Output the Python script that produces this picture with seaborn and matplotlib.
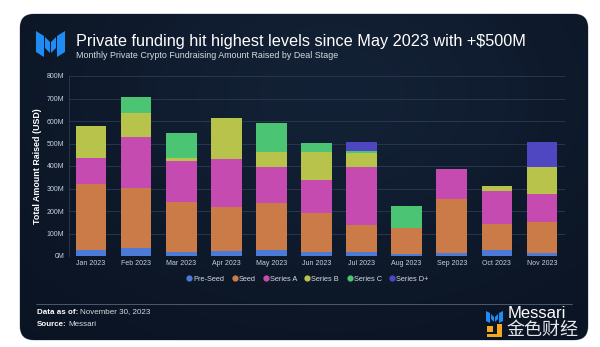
import numpy as np
import pandas as pd
import matplotlib
matplotlib.use("Agg")
import matplotlib.pyplot as plt
import seaborn as sns
from matplotlib.patches import FancyBboxPatch, Polygon
from matplotlib.lines import Line2D

months = ["Jan 2023", "Feb 2023", "Mar 2023", "Apr 2023", "May 2023", "Jun 2023",
          "Jul 2023", "Aug 2023", "Sep 2023", "Oct 2023", "Nov 2023"]
pre_seed = [27, 36, 19, 24, 27, 19, 18, 9, 15, 28, 15]
seed = [293, 266, 220, 194, 207, 174, 118, 117, 237, 113, 138]
series_a = [117, 225, 185, 213, 163, 145, 261, 0, 136, 149, 124]
series_b = [142, 110, 10, 184, 65, 126, 62, 0, 0, 21, 120]
series_c = [0, 68, 111, 0, 131, 38, 9, 98, 0, 0, 0]
series_d = [0, 0, 0, 0, 0, 0, 39, 0, 0, 0, 110]
stages = ["Pre-Seed", "Seed", "Series A", "Series B", "Series C", "Series D+"]
ytick_vals = [0, 100, 200, 300, 400, 500, 600, 700, 800]
ytick_labels = ["0M", "100M", "200M", "300M", "400M", "500M", "600M", "700M", "800M"]

colors = ["#4b7bd6", "#cb7b47", "#c64bb0", "#b7c34b", "#4bc473", "#4f47c2"]
FONT = ["Liberation Sans", "DejaVu Sans"]

sns.set_theme(style="white")
plt.rcParams["font.family"] = FONT

W, H = 600, 347
fig = plt.figure(figsize=(6.0, 3.47), dpi=100)
fig.patch.set_facecolor("white")

# background axes in pixel coordinates
bg = fig.add_axes([0, 0, 1, 1])
bg.set_xlim(0, W)
bg.set_ylim(H, 0)
bg.axis("off")

panel = FancyBboxPatch((20, 14), 568, 326, boxstyle="round,pad=0,rounding_size=14",
                       facecolor="#0e1a2c", edgecolor="#9fb3c8", linewidth=0.6, zorder=0)
bg.add_patch(panel)
yy, xx = np.mgrid[0:1:200j, 0:1:300j]
grad = np.clip(0.55 * np.exp(-((xx - 0.55) ** 2 / 0.25 + (yy - 0.25) ** 2 / 0.35)), 0, 1)
c0 = np.array([0x0a, 0x13, 0x22]) / 255
c1 = np.array([0x1a, 0x2c, 0x45]) / 255
img = c0[None, None, :] + (c1 - c0)[None, None, :] * grad[..., None]
im = bg.imshow(img, extent=(20, 588, 340, 14), zorder=0.5, aspect="auto")
im.set_clip_path(panel)

# Messari-style logo
logo_c = "#1e8cf5"
bg.add_patch(Polygon([(36, 31), (44, 36), (44, 57), (36, 52)], closed=True, fc=logo_c, ec="none", zorder=2))
bg.add_patch(Polygon([(45, 37), (50, 42), (50, 53), (45, 48)], closed=True, fc=logo_c, ec="none", zorder=2))
bg.add_patch(Polygon([(51, 42), (56, 37), (56, 48), (51, 53)], closed=True, fc=logo_c, ec="none", zorder=2))
bg.add_patch(Polygon([(57, 36), (65, 31), (65, 52), (57, 57)], closed=True, fc=logo_c, ec="none", zorder=2))

bg.text(76, 41, "Private funding hit highest levels since May 2023 with +$500M",
        color="white", fontsize=11.7, va="center", ha="left", zorder=3)
bg.text(76, 55, "Monthly Private Crypto Fundraising Amount Raised by Deal Stage",
        color="#d5dbe3", fontsize=6.4, va="center", ha="left", zorder=3)

# divider + footer
bg.plot([36, 572], [304, 304], color="#56657a", lw=0.6, zorder=3)
fig.canvas.draw()
renderer = fig.canvas.get_renderer()
inv = bg.transData.inverted()


def label_pair(y, bold_txt, txt):
    t = bg.text(37, y, bold_txt, color="white", fontsize=5.8, fontweight="bold", va="center", zorder=3)
    bb = t.get_window_extent(renderer=renderer)
    x1 = inv.transform((bb.x1, bb.y0))[0]
    bg.text(x1 + 1.5, y, txt, color="#d5dbe3", fontsize=5.8, va="center", zorder=3)


label_pair(312, "Data as of:", "November 30, 2023")
label_pair(325, "Source:", "Messari")

# Messari footer logo
bg.add_patch(Polygon([(486, 311), (490, 313), (490, 323), (486, 321)], closed=True, fc=logo_c, ec="none", zorder=3))
bg.add_patch(Polygon([(491, 314), (494, 317), (494, 322), (491, 319)], closed=True, fc=logo_c, ec="none", zorder=3))
bg.add_patch(Polygon([(495, 317), (498, 314), (498, 319), (495, 322)], closed=True, fc=logo_c, ec="none", zorder=3))
bg.add_patch(Polygon([(499, 313), (503, 311), (503, 321), (499, 323)], closed=True, fc=logo_c, ec="none", zorder=3))
bg.text(508, 313, "Messari", color="white", fontsize=12, va="center", ha="left", zorder=3)
# watermark
bg.add_patch(Polygon([(487, 326), (493, 326), (493, 332), (487, 332)], closed=True, fc="#f4a81d", ec="none", zorder=4))
bg.add_patch(Polygon([(497, 324), (502, 324), (502, 337), (487, 337), (487, 334), (497, 334)], closed=True,
                     fc="#f4a81d", ec="none", zorder=4))
bg.text(506, 330, "金色财经", color="white", fontsize=13,
        family=["Noto Sans CJK SC", "DejaVu Sans"], va="center", ha="left", zorder=4, alpha=0.9)

# chart axes
ax = fig.add_axes([68.5 / W, 1 - 256 / H, 496 / W, 180 / H])
ax.set_facecolor("none")

layers = [pre_seed, seed, series_a, series_b, series_c, series_d]
cum = np.cumsum(np.array(layers, dtype=float), axis=0)
for i in range(len(layers) - 1, -1, -1):
    df = pd.DataFrame({"month": months, "value": cum[i]})
    sns.barplot(data=df, x="month", y="value", color=colors[i], saturation=1,
                width=0.68, ax=ax, linewidth=0, zorder=2)

ax.set_ylim(0, 800)
ax.set_xlim(-0.5, len(months) - 0.5)
ax.set_yticks(ytick_vals)
ax.set_yticklabels(ytick_labels)
ax.yaxis.grid(True, color="#2a3b53", linewidth=0.6, zorder=0)
ax.set_axisbelow(True)
for s in ["top", "right", "bottom"]:
    ax.spines[s].set_visible(False)
ax.spines["left"].set_color("#2a3b53")
ax.spines["left"].set_linewidth(0.6)
ax.tick_params(axis="both", length=0, labelsize=5, labelcolor="#c9d0da", pad=3)
ax.set_xlabel("")
ax.set_ylabel("Total Amount Raised (USD)", color="white", fontsize=6.4, fontweight="bold", labelpad=3)

handles = [Line2D([0], [0], marker="o", linestyle="", markersize=4.5, markerfacecolor=c,
                  markeredgecolor="none") for c in colors]
leg = fig.legend(handles, stages, loc="center", bbox_to_anchor=(307 / W, 1 - 279 / H), ncol=6,
                 frameon=False, fontsize=5.3, handletextpad=0.05, columnspacing=0.9,
                 handlelength=1.0)
for t in leg.get_texts():
    t.set_color("#d5dbe3")

fig.savefig("out.png", dpi=100, facecolor="white")
